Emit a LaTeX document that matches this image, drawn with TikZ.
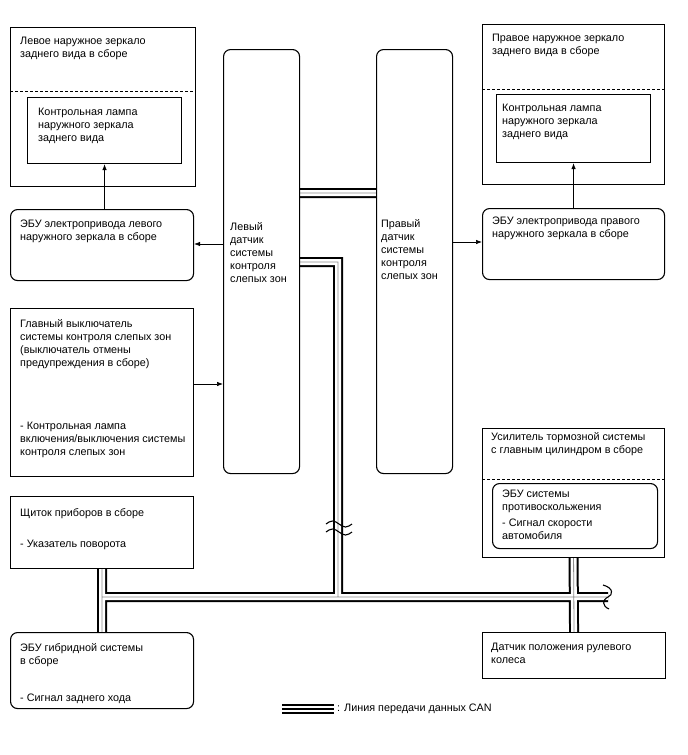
\documentclass[tikz,border=0pt]{standalone}
\usepackage{fontspec}
\setmainfont{Liberation Sans}
\usetikzlibrary{arrows.meta, backgrounds}
\tikzset{
  blk/.style={draw, line width=1.1pt, anchor=north west, inner sep=0pt},
  rblk/.style={blk, rounded corners=7pt},
  lbl/.style={anchor=north west, inner sep=0pt, align=left,
              font=\fontsize{10.8}{13}\selectfont},
  sig/.style={-{Latex[length=6pt,width=4.5pt]}, line width=0.7pt},
  canouter/.style={line width=10pt, black},
  caninner/.style={line width=6pt, white},
  cancore/.style={line width=0.8pt, black!45},
  brk/.style={line width=1.1pt}
}
% CAN network, drawn once per layer of the triple line
\newcommand{\cannet}[1]{%
  \draw[#1] (lsens.east |- 0,193) -- (rsens.west |- 0,193)
            (lsens.east |- bend) -- (bend) -- (jct)
            (cluster.south) -- (hybrid.north)
            (busW) -- (busE)
            (brake.south) -- (steer.north);}

\begin{document}
\begin{tikzpicture}[x=1pt, y=-1pt]
  \useasboundingbox (0,0) rectangle (688,755);

  %% left column
  \node[blk, minimum width=185pt, minimum height=159pt] (lmir) at (10,27) {};
  \node[blk, minimum width=154pt, minimum height=66pt] (llamp) at (27,97) {};
  \node[rblk, minimum width=183pt, minimum height=71pt] (lecu) at (10,209) {};
  \node[blk, minimum width=183pt, minimum height=168pt] (mainsw) at (10,308) {};
  \node[blk, minimum width=183pt, minimum height=72pt] (cluster) at (10,496) {};
  \node[rblk, minimum width=183pt, minimum height=76pt] (hybrid) at (10,632) {};

  %% sensors
  \node[rblk, minimum width=76pt, minimum height=424pt] (lsens) at (223,49) {};
  \node[rblk, minimum width=76pt, minimum height=424pt] (rsens) at (376,49) {};

  %% right column
  \node[blk, minimum width=182pt, minimum height=160pt] (rmir) at (482,24) {};
  \node[blk, minimum width=154pt, minimum height=68pt] (rlamp) at (496,94) {};
  \node[rblk, minimum width=182pt, minimum height=71pt] (recu) at (482,208) {};
  \node[blk, minimum width=182pt, minimum height=129pt] (brake) at (482,428) {};
  \node[rblk, minimum width=165pt, minimum height=65pt] (abs) at (492,483) {};
  \node[blk, minimum width=183pt, minimum height=46pt] (steer) at (482,632) {};

  \draw[dash pattern=on 3pt off 2pt, line width=1pt] (lmir.west |- 0,91) -- (lmir.east |- 0,91);
  \draw[dash pattern=on 3pt off 2pt, line width=1pt] (rmir.west |- 0,89) -- (rmir.east |- 0,89);
  \draw[dash pattern=on 3pt off 2pt, line width=1pt] (brake.west |- 0,479) -- (brake.east |- 0,479);

  %% texts
  \node[lbl] at (20,37) {Левое наружное зеркало\\заднего вида в сборе};
  \node[lbl] at (38,108) {Контрольная лампа\\наружного зеркала\\заднего вида};
  \node[lbl] at (20,220) {ЭБУ электропривода левого\\наружного зеркала в сборе};
  \node[lbl] at (20,319) {Главный выключатель\\системы контроля слепых зон\\(выключатель отмены\\предупреждения в сборе)\\[50pt]- Контрольная лампа\\включения/выключения системы\\контроля слепых зон};
  \node[lbl] at (20,508) {Щиток приборов в сборе\\[18pt]- Указатель поворота};
  \node[lbl] at (20,643) {ЭБУ гибридной системы\\в сборе\\[24pt]- Сигнал заднего хода};
  \node[lbl] at (230,222) {Левый\\датчик\\системы\\контроля\\слепых зон};
  \node[lbl] at (381,219) {Правый\\датчик\\системы\\контроля\\слепых зон};
  \node[lbl] at (492,34) {Правое наружное зеркало\\заднего вида в сборе};
  \node[lbl] at (502,104) {Контрольная лампа\\наружного зеркала\\заднего вида};
  \node[lbl] at (492,217) {ЭБУ электропривода правого\\наружного зеркала в сборе};
  \node[lbl] at (491,432) {Усилитель тормозной системы\\с главным цилиндром в сборе};
  \node[lbl] at (502,490) {ЭБУ системы\\противоскольжения\\[3pt]- Сигнал скорости\\автомобиля};
  \node[lbl] at (491,643) {Датчик положения рулевого\\колеса};

  %% signal arrows
  \draw[sig] (lsens.west |- 0,244) -- (lecu.east |- 0,244);
  \draw[sig] (lecu.north -| llamp.south) -- (llamp.south);
  \draw[sig] (rsens.east |- 0,242) -- (recu.west |- 0,242);
  \draw[sig] (recu.north -| rlamp.south) -- (rlamp.south);
  \draw[sig] (mainsw.east |- 0,384) -- (lsens.west |- 0,384);

  %% CAN lines
  \coordinate (bend) at (338,262);
  \coordinate (jct) at (338,597);
  \coordinate (busW) at (cluster.south |- jct);
  \coordinate (busE) at (608,597);
  \begin{scope}[on background layer]
    \cannet{canouter}
    \cannet{caninner}
    \cannet{cancore}
  \end{scope}
  \foreach \y in {524,532}
    \draw[brk] (326,\y) sin (332.5,\y-3) cos (339,\y) sin (345.5,\y+3) cos (352,\y);
  \draw[brk] (603,585) .. controls (614,588) and (613,595) .. (608,597)
             .. controls (602,600) and (602,606) .. (609,609);

  %% legend
  \coordinate (legW) at (282,709);
  \coordinate (legE) at (334,709);
  \draw[canouter] (legW) -- (legE);
  \draw[caninner] (legW) -- (legE);
  \draw[line width=1.6pt] (legW) -- (legE);
  \node[lbl, anchor=west, xshift=3pt] at (legE) {: Линия передачи данных CAN};
\end{tikzpicture}
\end{document}
